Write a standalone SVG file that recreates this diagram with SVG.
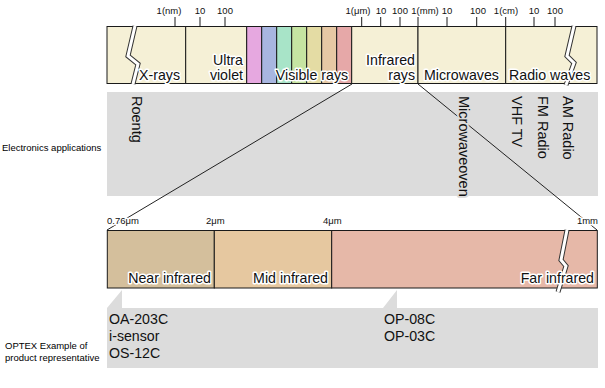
<svg xmlns="http://www.w3.org/2000/svg" width="605" height="388" viewBox="0 0 605 388">
<style>
text{font-family:"Liberation Sans",Arial,sans-serif;fill:#111}
.seg{stroke:#1a1a1a;stroke-width:1}
.tk{stroke:#1a1a1a;stroke-width:1}
.lbl{font-size:14.2px;stroke:#fff;stroke-width:3;stroke-linejoin:round;paint-order:stroke}
.vl{font-size:14.5px;stroke:#dcdcdc;stroke-width:4;stroke-linejoin:round;paint-order:stroke}
.tl{font-size:9.5px;text-anchor:middle}
.sm{font-size:9.5px;stroke:#fff;stroke-width:3;stroke-linejoin:round;paint-order:stroke}
.side{font-size:9.5px;fill:#000}
.prod{font-size:14.2px}
.brk1{fill:none;stroke:#333;stroke-width:5;stroke-linejoin:miter}
.brk2{fill:none;stroke:#fff;stroke-width:3;stroke-linejoin:miter}
.conn{stroke:#222;stroke-width:1;fill:none}
.band{fill:#dcdcdc}
</style>

<g id="apps-band">
<rect class="band" x="107" y="92" width="491" height="104"/>
<text class="side" x="2" y="151">Electronics applications</text>
</g>

<g id="products-band">
<path class="band" d="M107,308 L122,290 L122,308 L383,308 L397,290 L397,308 L598,308 L598,368 L107,368 Z"/>
<text class="side" x="5" y="349">OPTEX Example of</text>
<text class="side" x="5" y="361">product representative</text>
<text class="prod" x="109" y="324">OA-203C</text>
<text class="prod" x="109" y="341">i-sensor</text>
<text class="prod" x="109" y="358">OS-12C</text>
<text class="prod" x="384" y="324">OP-08C</text>
<text class="prod" x="384" y="341">OP-03C</text>
</g>

<g id="connectors">
<line class="conn" x1="352" y1="84" x2="107" y2="230"/>
<line class="conn" x1="418" y1="84" x2="597" y2="230"/>
</g>

<g id="spectrum">
<g id="xrays">
<rect class="seg" x="107" y="26.5" width="78.7" height="57" fill="#f5f0d6"/>
<polyline class="brk1" points="135,26 128,56 138,64 133,84"/>
<polyline class="brk2" points="135,26 128,56 138,64 133,84"/>
<text class="lbl" x="139" y="80">X-rays</text>
</g>
<g id="ultraviolet">
<rect class="seg" x="185.7" y="26.5" width="61" height="57" fill="#f5f0d6"/>
<text class="lbl" x="243" y="65" text-anchor="end">Ultra<tspan x="243" y="80">violet</tspan></text>
</g>
<g id="visible">
<rect class="seg" x="246.7" y="26.5" width="15" height="57" fill="#e6a8e0"/>
<rect class="seg" x="261.7" y="26.5" width="15" height="57" fill="#a8b6e0"/>
<rect class="seg" x="276.7" y="26.5" width="15" height="57" fill="#a8e4c8"/>
<rect class="seg" x="291.7" y="26.5" width="15" height="57" fill="#c6e4a2"/>
<rect class="seg" x="306.7" y="26.5" width="15" height="57" fill="#e4dca4"/>
<rect class="seg" x="321.7" y="26.5" width="15" height="57" fill="#e6c8a4"/>
<rect class="seg" x="336.7" y="26.5" width="15" height="57" fill="#e6a8a8"/>
<text class="lbl" x="312" y="80" text-anchor="middle">Visible rays</text>
</g>
<g id="infrared">
<rect class="seg" x="351.7" y="26.5" width="66.3" height="57" fill="#f5f0d6"/>
<text class="lbl" x="415" y="65" text-anchor="end">Infrared<tspan x="415" y="80">rays</tspan></text>
</g>
<g id="microwaves">
<rect class="seg" x="418" y="26.5" width="87.7" height="57" fill="#f5f0d6"/>
<text class="lbl" x="424" y="80">Microwaves</text>
</g>
<g id="radio">
<rect class="seg" x="505.7" y="26.5" width="91.3" height="57" fill="#f5f0d6"/>
<polyline class="brk1" points="574,26 567,56 574,63 566,85"/>
<polyline class="brk2" points="574,26 567,56 574,63 566,85"/>
<text class="lbl" x="509" y="80">Radio waves</text>
</g>
<g id="ticks">
<line class="tk" x1="175" y1="17" x2="175" y2="26.5"/>
<line class="tk" x1="200" y1="17" x2="200" y2="26.5"/>
<line class="tk" x1="225" y1="17" x2="225" y2="26.5"/>
<line class="tk" x1="361.7" y1="17" x2="361.7" y2="26.5"/>
<line class="tk" x1="380.7" y1="17" x2="380.7" y2="26.5"/>
<line class="tk" x1="400" y1="17" x2="400" y2="26.5"/>
<line class="tk" x1="418" y1="17" x2="418" y2="26.5"/>
<line class="tk" x1="447" y1="17" x2="447" y2="26.5"/>
<line class="tk" x1="476.7" y1="17" x2="476.7" y2="26.5"/>
<line class="tk" x1="505.7" y1="17" x2="505.7" y2="26.5"/>
<line class="tk" x1="534" y1="17" x2="534" y2="26.5"/>
<line class="tk" x1="555" y1="17" x2="555" y2="26.5"/>
<text class="tl" x="169" y="14">1(nm)</text>
<text class="tl" x="200" y="14">10</text>
<text class="tl" x="225" y="14">100</text>
<text class="tl" x="358" y="14">1(μm)</text>
<text class="tl" x="381" y="14">10</text>
<text class="tl" x="400" y="14">100</text>
<text class="tl" x="425" y="14">1(mm)</text>
<text class="tl" x="447" y="14">10</text>
<text class="tl" x="478" y="14">100</text>
<text class="tl" x="506" y="14">1(cm)</text>
<text class="tl" x="534" y="14">10</text>
<text class="tl" x="555" y="14">100</text>
</g>
</g>

<g id="applications">
<text class="vl" transform="translate(132,96) rotate(90)">Roentg</text>
<text class="vl" transform="translate(458.5,96) rotate(90)">Microwaveoven</text>
<text class="vl" transform="translate(511.5,96) rotate(90)">VHF TV</text>
<text class="vl" transform="translate(538,96) rotate(90)">FM Radio</text>
<text class="vl" transform="translate(563,96) rotate(90)">AM Radio</text>
</g>

<g id="ir-detail">
<g id="near-ir">
<rect class="seg" x="107.3" y="230.5" width="107" height="57.5" fill="#d4bf9c"/>
<text class="lbl" x="211" y="283" text-anchor="end">Near  infrared</text>
</g>
<g id="mid-ir">
<rect class="seg" x="214.3" y="230.5" width="117.4" height="57.5" fill="#e6c8a0"/>
<text class="lbl" x="328" y="283" text-anchor="end">Mid infrared</text>
</g>
<g id="far-ir">
<rect class="seg" x="331.7" y="230.5" width="265.6" height="57.5" fill="#e6b8a8"/>
<polyline class="brk1" points="567,230 561,260 566,266 558,292"/>
<polyline class="brk2" points="567,230 561,260 566,266 558,292"/>
<text class="lbl" x="594" y="283" text-anchor="end">Far infrared</text>
</g>
<text class="sm" x="107" y="224">0.76μm</text>
<text class="sm" x="206" y="224">2μm</text>
<text class="sm" x="323" y="224">4μm</text>
<text class="sm" x="598" y="224" text-anchor="end">1mm</text>
</g>
</svg>
